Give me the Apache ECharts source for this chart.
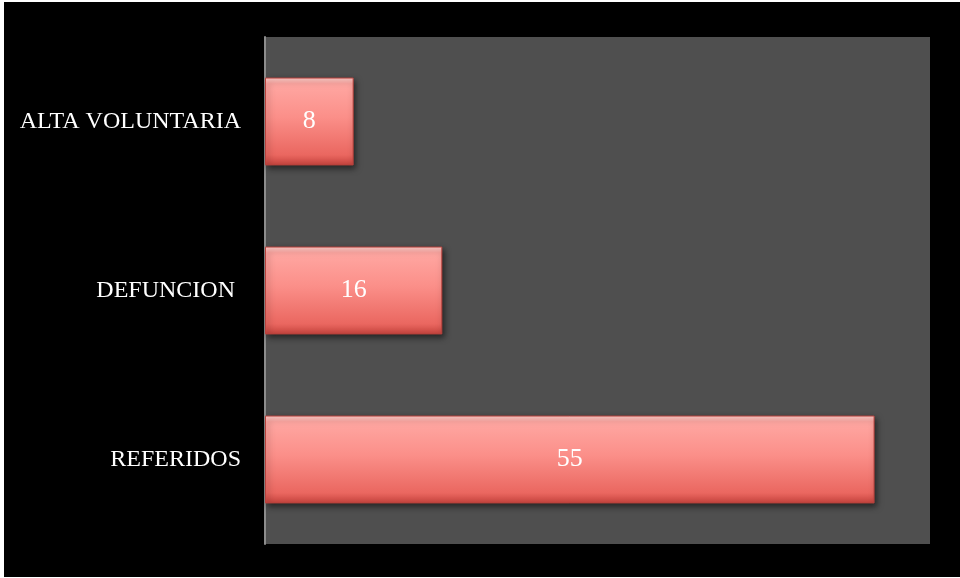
<!DOCTYPE html>
<html>
<head>
<meta charset="utf-8">
<script src="https://cdn.jsdelivr.net/npm/echarts@6/dist/echarts.min.js"></script>
<style>
  html, body { margin: 0; padding: 0; background: #000; }
  #chart { width: 960px; height: 578px; }
</style>
</head>
<body>
<div id="chart"></div>
<script>
// Categories listed bottom-to-top (category axis on y runs upward)
const categories = ['REFERIDOS', 'DEFUNCION ', 'ALTA VOLUNTARIA'];
const values = [55, 16, 8];
const axisMax = 60;

const chart = echarts.init(document.getElementById('chart'));

const barFill = new echarts.graphic.LinearGradient(0, 0, 0, 1, [
  { offset: 0, color: '#ffd0cc' },
  { offset: 0.07, color: '#ffa7a2' },
  { offset: 0.45, color: '#fb8f89' },
  { offset: 0.88, color: '#ea6760' },
  { offset: 1, color: '#c5433d' }
]);

chart.setOption({
  backgroundColor: '#000000',
  animation: false,
  grid: {
    left: 265, right: 30, top: 37, bottom: 34,
    show: true, backgroundColor: '#4f4f4f', borderWidth: 0
  },
  xAxis: {
    type: 'value', min: 0, max: axisMax,
    axisLine: { show: false }, axisTick: { show: false },
    axisLabel: { show: false }, splitLine: { show: false }
  },
  yAxis: {
    type: 'category', data: categories,
    axisLine: { show: true, lineStyle: { color: '#8c8c8c', width: 2 } },
    axisTick: { show: false },
    axisLabel: {
      color: '#ffffff', fontFamily: 'Liberation Serif, DejaVu Serif, serif',
      fontSize: 24, margin: 24
    }
  },
  series: [{
    type: 'bar',
    data: values,
    barWidth: '52%',
    itemStyle: {
      color: barFill,
      borderColor: '#b8423d', borderWidth: 1,
      shadowColor: 'rgba(0,0,0,0.55)', shadowBlur: 6,
      shadowOffsetX: 2, shadowOffsetY: 3
    },
    label: {
      show: true, position: 'inside', color: '#ffffff',
      fontFamily: 'Liberation Serif, DejaVu Serif, serif', fontSize: 26
    }
  }],
  graphic: [
    { type: 'rect', left: 0, top: 0, shape: { width: 4, height: 578 }, style: { fill: '#ffffff' }, z: 100 },
    { type: 'rect', left: 0, top: 0, shape: { width: 960, height: 2 }, style: { fill: '#ffffff' }, z: 100 },
    { type: 'rect', left: 0, top: 577, shape: { width: 960, height: 1 }, style: { fill: '#ffffff' }, z: 100 }
  ]
});
</script>
</body>
</html>
